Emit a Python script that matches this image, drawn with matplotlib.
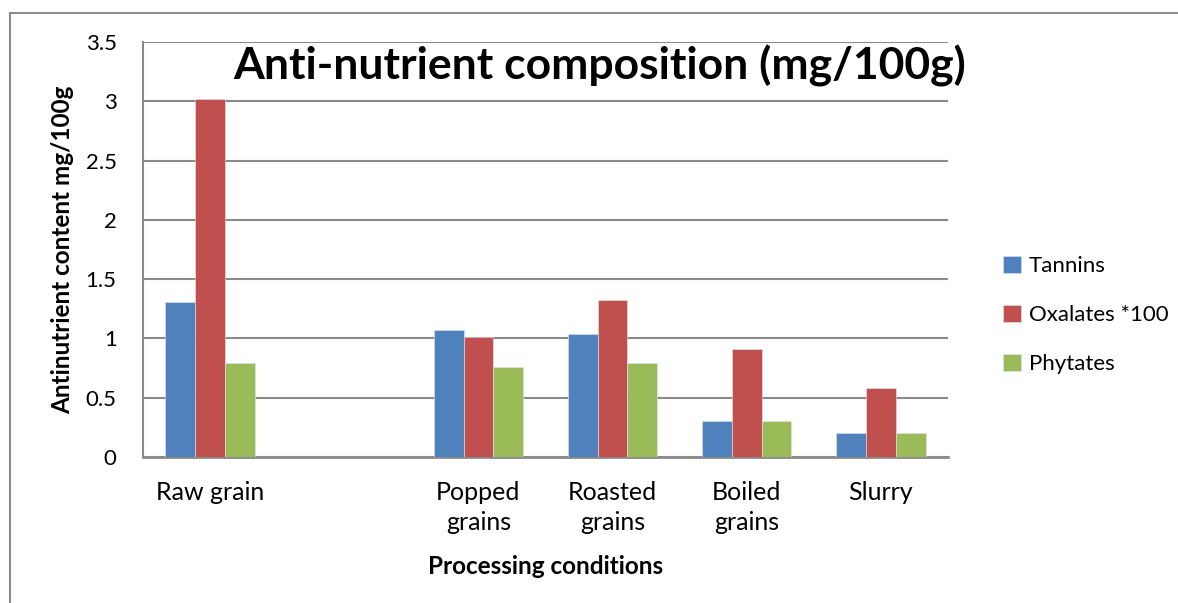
import matplotlib
matplotlib.use("Agg")
import matplotlib.pyplot as plt
import numpy as np
from matplotlib.patches import Rectangle

categories = ["Raw grain", "", "Popped\ngrains", "Roasted\ngrains", "Boiled\ngrains", "Slurry"]
tannins = [1.31, np.nan, 1.07, 1.04, 0.30, 0.20]
oxalates = [3.02, np.nan, 1.01, 1.32, 0.91, 0.58]
phytates = [0.79, np.nan, 0.76, 0.79, 0.30, 0.20]
series_names = ["Tannins", "Oxalates *100", "Phytates"]
colors = ["#4F81BD", "#C0504D", "#9BBB59"]
yticks = [0, 0.5, 1, 1.5, 2, 2.5, 3, 3.5]
ytick_labels = ["0", "0.5", "1", "1.5", "2", "2.5", "3", "3.5"]

plt.rcParams['font.family'] = ['Lato', 'DejaVu Sans']

fig = plt.figure(figsize=(11.78, 6.03), dpi=100)
fig.patches.append(Rectangle((10/1178, 0 - 0.01), 1.2, 1 - 13/603 + 0.01,
                             transform=fig.transFigure, fill=False,
                             edgecolor="#8c8c8c", linewidth=1.5))
ax = fig.add_axes([143/1178, 1 - 457/603, (948-143)/1178, (457-42)/603])

x = np.arange(len(categories))
w = 0.222
for i, (vals, name, c) in enumerate(zip([tannins, oxalates, phytates], series_names, colors)):
    ax.bar(x + (i - 1) * w, vals, width=w, color=c, label=name,
           edgecolor="#dfe8f3", linewidth=0.4, zorder=3)

ax.set_xlim(-0.5, len(categories) - 0.5)
ax.set_ylim(0, 3.5)
ax.set_yticks(yticks)
ax.set_yticklabels(ytick_labels, fontsize=16)
ax.set_xticks(x)
ax.set_xticklabels(categories, fontsize=18, linespacing=1.4)
ax.tick_params(axis='both', length=0)
ax.tick_params(axis='x', pad=17)
ax.tick_params(axis='y', pad=19)
ax.yaxis.grid(True, color="#8a8a8a", linewidth=1.5, zorder=0)
for s in ["top", "right"]:
    ax.spines[s].set_visible(False)
ax.spines["left"].set_color("#8a8a8a")
ax.spines["left"].set_linewidth(1.5)
ax.spines["bottom"].set_color("#8a8a8a")
ax.spines["bottom"].set_linewidth(2)
ax.set_axisbelow(True)

ax.set_xlabel("Processing conditions", fontsize=17.5, fontweight="bold", labelpad=15)
ax.set_ylabel("Antinutrient content mg/100g", fontsize=17.5, fontweight="bold", labelpad=8)

fig.text(600/1178, 1 - 66/603, "Anti-nutrient composition (mg/100g)", fontsize=32,
         fontweight="bold", ha="center", va="center")

leg = fig.legend(loc="center left", bbox_to_anchor=(983/1178, 1 - 315/603),
                 frameon=False, fontsize=16, handlelength=0.8, handleheight=0.8,
                 handletextpad=0.35, labelspacing=1.3)

fig.savefig("out.png", dpi=100)
